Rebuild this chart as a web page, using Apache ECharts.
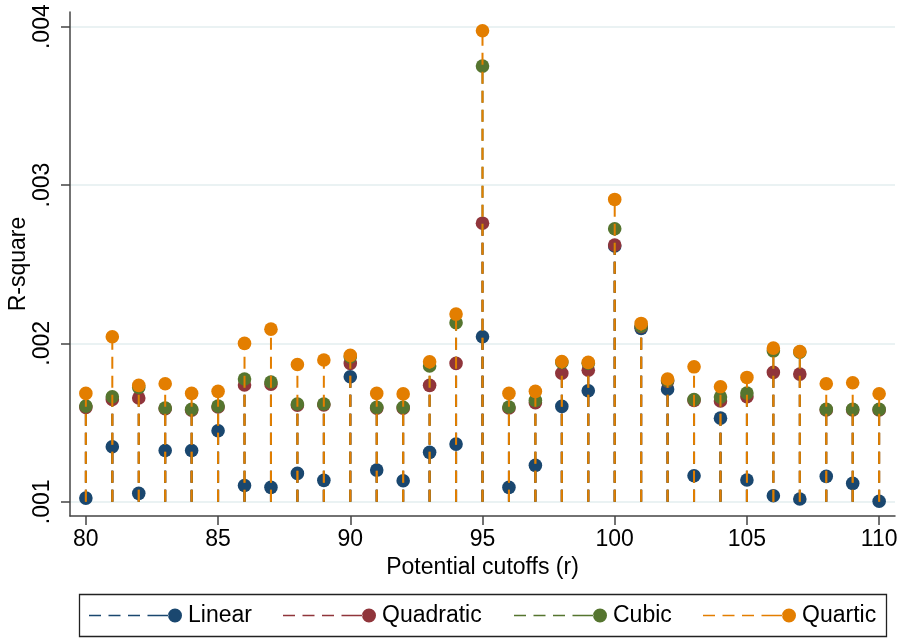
<!DOCTYPE html>
<html>
<head>
<meta charset="utf-8">
<title>R-square by potential cutoff</title>
<script src="https://cdn.jsdelivr.net/npm/echarts@6/dist/echarts.min.js"></script>
<style>
  html, body { margin: 0; padding: 0; background: #ffffff; }
  #chart { width: 902px; height: 639px; }
</style>
</head>
<body>
<div id="chart"></div>
<script>
// Potential cutoffs r and the R-square of each polynomial fit
const cutoffs = [80, 81, 82, 83, 84, 85, 86, 87, 88, 89, 90, 91, 92, 93, 94, 95,
                 96, 97, 98, 99, 100, 101, 102, 103, 104, 105, 106, 107, 108, 109, 110];

const linear = [0.001023, 0.001347, 0.001053, 0.001324, 0.001324, 0.001448, 0.001103, 0.001091,
                0.001179, 0.001135, 0.001789, 0.001200, 0.001133, 0.001312, 0.001364, 0.002042,
                0.001091, 0.001230, 0.001602, 0.001701, 0.002615, 0.002095, 0.001711, 0.001164,
                0.001528, 0.001137, 0.001038, 0.001017, 0.001160, 0.001116, 0.001003];

const quadratic = [0.001596, 0.001646, 0.001655, 0.001588, 0.001578, 0.001598, 0.001737, 0.001743,
                   0.001610, 0.001612, 0.001874, 0.001590, 0.001590, 0.001735, 0.001874, 0.002759,
                   0.001592, 0.001625, 0.001811, 0.001831, 0.002621, 0.002105, 0.001762, 0.001640,
                   0.001636, 0.001663, 0.001817, 0.001806, 0.001580, 0.001580, 0.001580];

const cubic = [0.001604, 0.001663, 0.001722, 0.001592, 0.001583, 0.001604, 0.001775, 0.001756,
               0.001617, 0.001617, 0.001915, 0.001596, 0.001596, 0.001857, 0.002130, 0.003751,
               0.001598, 0.001640, 0.001880, 0.001875, 0.002724, 0.002109, 0.001766, 0.001646,
               0.001661, 0.001686, 0.001953, 0.001945, 0.001583, 0.001583, 0.001583];

const quartic = [0.001684, 0.002042, 0.001735, 0.001745, 0.001684, 0.001697, 0.002000, 0.002090,
                 0.001867, 0.001895, 0.001924, 0.001684, 0.001681, 0.001884, 0.002185, 0.003974,
                 0.001684, 0.001697, 0.001886, 0.001880, 0.002909, 0.002126, 0.001775, 0.001852,
                 0.001726, 0.001785, 0.001970, 0.001949, 0.001745, 0.001751, 0.001682];

const xTicks = [80, 85, 90, 95, 100, 105, 110];
const yTicks = [0.001, 0.002, 0.003, 0.004];

// drop lines fall to this level
const BASE = 0.001;

const models = [
  { name: 'Linear',    values: linear,    color: '#1a476f' },
  { name: 'Quadratic', values: quadratic, color: '#90353b' },
  { name: 'Cubic',     values: cubic,     color: '#55752f' },
  { name: 'Quartic',   values: quartic,   color: '#e37e00' }
];

const FONT = "'Liberation Sans', Arial, Helvetica, sans-serif";
const FS = 23;

// dashed stem ending in a filled dot
const legendIcon = 'path://M0,6.2h12v1.6h-12z M19.5,6.2h12v1.6h-12z M39,6.2h12v1.6h-12z M58.5,6.2h21v1.6h-21z ' +
                   'M79,7a7,7 0 1,0 14,0a7,7 0 1,0 -14,0z';
const legendLeft = [89, 283, 514, 703];

function dropRenderer(color) {
  return function (params, api) {
    const x = api.value(0);
    const y = api.value(1);
    const top = api.coord([x, y]);
    const bottom = api.coord([x, BASE]);
    return {
      type: 'group',
      children: [
        {
          // drawn upward from the base so every stem shares the same dash phase
          type: 'line',
          shape: { x1: bottom[0], y1: bottom[1], x2: top[0], y2: top[1] },
          style: { stroke: color, lineWidth: 2, lineDash: [12, 7] }
        },
        {
          type: 'circle',
          shape: { cx: top[0], cy: top[1], r: 6.8 },
          style: { fill: color }
        }
      ]
    };
  };
}

const chart = echarts.init(document.getElementById('chart'), null, { renderer: 'canvas' });

chart.setOption({
  animation: false,
  backgroundColor: '#ffffff',
  textStyle: { fontFamily: FONT },
  grid: { left: 70, right: 7, top: 12, bottom: 123, outerBoundsMode: 'none', containLabel: false },
  xAxis: {
    type: 'value',
    min: 79.4,
    max: 110.6,
    name: 'Potential cutoffs (r)',
    nameLocation: 'middle',
    nameGap: 40,
    nameMoveOverlap: false,
    nameTextStyle: { color: '#000', fontSize: FS, fontFamily: FONT },
    axisLine: { show: true, lineStyle: { color: '#444', width: 1.5 } },
    axisTick: { show: true, length: 9, lineStyle: { color: '#444', width: 1.5 }, customValues: xTicks },
    axisLabel: { color: '#000', fontSize: FS, margin: 12, fontFamily: FONT, customValues: xTicks },
    splitLine: { show: false }
  },
  yAxis: {
    type: 'value',
    min: 0.00091,
    max: 0.0040925,
    name: 'R-square',
    nameLocation: 'middle',
    nameGap: 40,
    nameMoveOverlap: false,
    nameRotate: 90,
    nameTextStyle: { color: '#000', fontSize: FS, fontFamily: FONT },
    axisLine: { show: true, lineStyle: { color: '#444', width: 1.5 } },
    axisTick: { show: true, length: 9, lineStyle: { color: '#444', width: 1.5 }, customValues: yTicks },
    axisLabel: {
      color: '#000', fontSize: FS, margin: 16, rotate: 90, fontFamily: FONT,
      customValues: yTicks,
      formatter: function (v) { return v.toFixed(3).replace(/^0/, ''); }
    },
    splitLine: { show: true, lineStyle: { color: '#eaf2f3', width: 2 } }
  },
  legend: models.map(function (m, i) {
    return {
      data: [m.name],
      left: legendLeft[i],
      top: 604,
      padding: 0,
      itemWidth: 93,
      itemHeight: 14,
      icon: legendIcon,
      selectedMode: false,
      textStyle: { color: '#000', fontSize: FS, fontFamily: FONT, padding: [0, 0, 0, 1] }
    };
  }),
  graphic: [{
    type: 'rect',
    shape: { x: 79.5, y: 594.5, width: 807, height: 42 },
    style: { fill: null, stroke: '#222', lineWidth: 1.3 },
    silent: true,
    z: 0
  }],
  series: models.map(function (m) {
    return {
      name: m.name,
      type: 'custom',
      coordinateSystem: 'cartesian2d',
      itemStyle: { color: m.color },
      renderItem: dropRenderer(m.color),
      encode: { x: 0, y: 1 },
      data: cutoffs.map(function (c, i) { return [c, m.values[i]]; })
    };
  })
});
</script>
</body>
</html>
